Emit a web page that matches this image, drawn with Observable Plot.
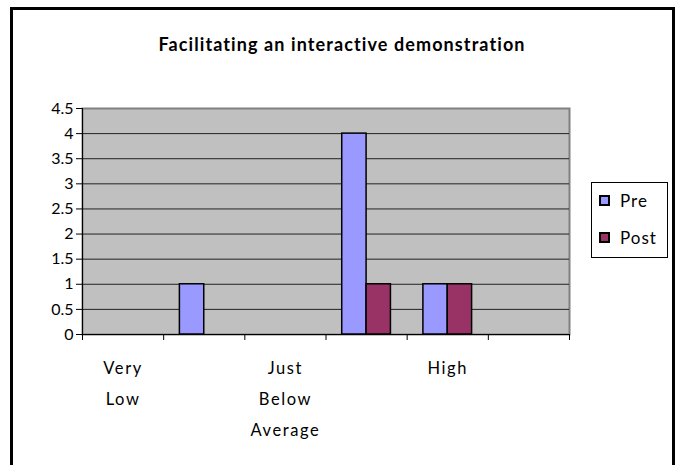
<!DOCTYPE html>
<html>
<head>
<meta charset="utf-8">
<script src="https://cdn.jsdelivr.net/npm/d3@7"></script>
<script src="https://cdn.jsdelivr.net/npm/@observablehq/plot@0.6"></script>
<style>
  html, body { margin: 0; padding: 0; background: #fff; }
  #wrap { position: relative; width: 678px; height: 465px; overflow: hidden; font-family: Lato, "Open Sans", sans-serif; }
  #frame { position: absolute; left: 10px; top: 7px; width: 665px; height: 480px; border: 3px solid #000; box-sizing: border-box; }
  #title { position: absolute; left: 0; width: 684px; top: 33px; text-align: center; font-weight: bold; font-size: 18px; letter-spacing: 1.1px; color: #000; }
  #chart { position: absolute; left: 0; top: 0; }
  #legend { position: absolute; left: 591px; top: 182px; width: 77px; height: 76px; border: 1px solid #000; box-sizing: border-box; background: #fff; }
  .item { position: absolute; left: 7px; font-size: 17px; letter-spacing: 1px; color: #000; display: flex; align-items: center; }
  .sw { width: 7px; height: 7px; border: 2px solid #000; margin-right: 10px; }
</style>
</head>
<body>
<div id="wrap">
  <div id="chart"></div>
  <div id="frame"></div>
  <div id="title">Facilitating an interactive demonstration</div>
  <div id="legend"></div>
</div>
<script>
// ---- data ----
const categories = ["Very Low", "Low", "Just Below Average", "Just Above Average", "High", "Very High"];
const tickLabels = ["Very Low", "", "Just Below Average", "", "High", ""];
const series = ["Pre", "Post"];
const preValues = [0, 1, 0, 4, 1, 0];
const postValues = [0, 0, 0, 1, 1, 0];
const seriesColors = ["#9999FF", "#993366"];
const yTicks = [0, 0.5, 1, 1.5, 2, 2.5, 3, 3.5, 4, 4.5];

// ---- build table ----
const valuesBySeries = [preValues, postValues];
const rows = [];
series.forEach((s, si) => {
  categories.forEach((c, ci) => {
    rows.push({category: c, index: ci, series: s, si, value: valuesBySeries[si][ci]});
  });
});
const gap = 0.2, barW = 0.3;
const bars = rows.filter(d => d.value > 0);
const boundaries = d3.range(categories.length + 1);
const labels = categories.map((c, i) => ({i, label: tickLabels[i]})).filter(d => d.label);

const chart = Plot.plot({
  width: 678,
  height: 465,
  marginLeft: 82,
  marginRight: 109,
  marginTop: 108,
  marginBottom: 131,
  style: {fontFamily: "Lato, 'Open Sans', sans-serif", fontSize: "16px", color: "#000", background: "transparent"},
  x: {domain: [0, categories.length], axis: null},
  y: {domain: [0, 4.5], axis: null},
  color: {domain: series, range: seriesColors},
  marks: [
    Plot.frame({fill: "#C0C0C0", stroke: "#808080", strokeWidth: 2}),
    Plot.ruleY(yTicks.filter(t => t > 0 && t < 4.5), {stroke: "#222", strokeWidth: 1}),
    Plot.rectY(bars, {
      x1: d => d.index + gap + d.si * barW,
      x2: d => d.index + gap + (d.si + 1) * barW,
      y1: 0, y2: "value",
      fill: "series", stroke: "#000", strokeWidth: 1.5
    }),
    Plot.ruleX([0], {stroke: "#000", strokeWidth: 1}),
    Plot.ruleY([0], {stroke: "#000", strokeWidth: 1}),
    Plot.axisY({ticks: yTicks, tickSize: 6, tickPadding: 3, tickFormat: d => String(d), fontSize: 16, anchor: "left", label: null}),
    Plot.axisX({ticks: boundaries, tickSize: 6, tickFormat: () => "", anchor: "bottom", label: null}),
    Plot.text(labels, {
      x: d => d.i + 0.5, y: 0,
      text: d => d.label.replace(/ /g, "\n"),
      lineAnchor: "top", lineHeight: 1.9, dy: 17, fontSize: 16.5, fill: "#000"
    })
  ]
});
chart.querySelectorAll("text").forEach(t => {
  if (t.closest("g[aria-label='text']")) t.setAttribute("letter-spacing", "1.6");
});
document.getElementById("chart").appendChild(chart);

// legend
const legend = document.getElementById("legend");
series.forEach((s, i) => {
  const it = document.createElement("div");
  it.className = "item";
  it.style.top = (i === 0 ? 7 : 44) + "px";
  const sw = document.createElement("span");
  sw.className = "sw";
  sw.style.background = seriesColors[i];
  const tx = document.createElement("span");
  tx.textContent = s;
  it.appendChild(sw); it.appendChild(tx);
  legend.appendChild(it);
});
</script>
</body>
</html>
